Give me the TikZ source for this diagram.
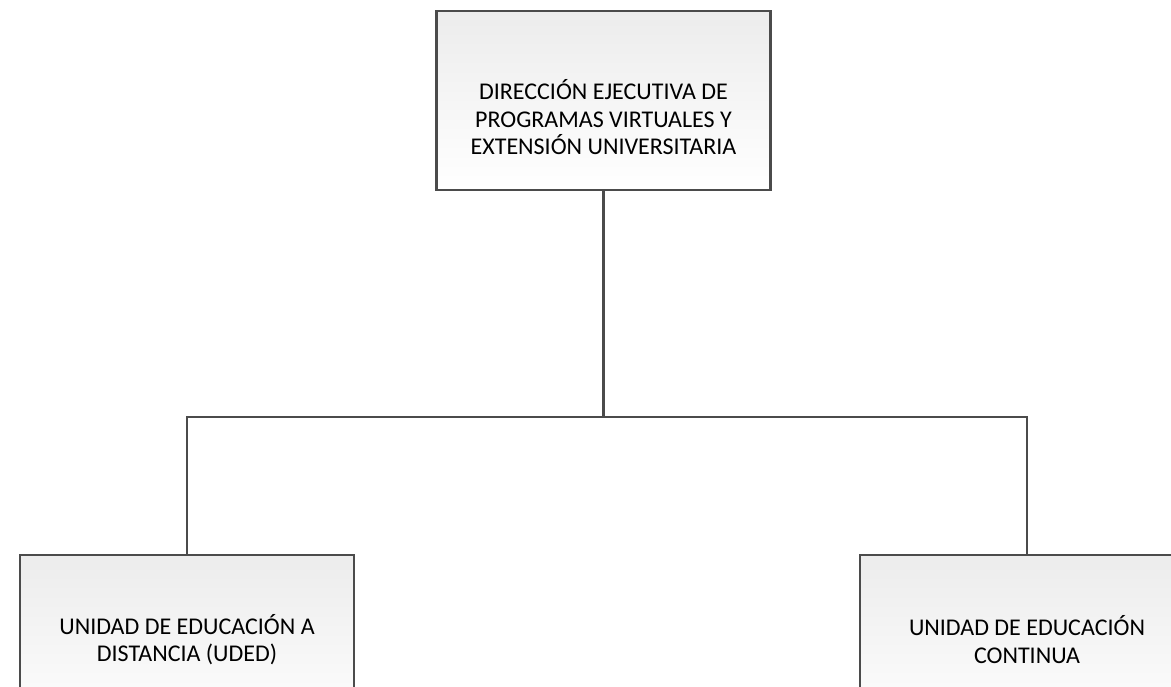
\documentclass[tikz,border=0pt]{standalone}
\usepackage{fontspec}
\setmainfont{Carlito}
\usepackage{tikz}
\usetikzlibrary{positioning}
\definecolor{boxtop}{RGB}{236,236,236}
\definecolor{boxline}{RGB}{75,75,75}

\begin{document}
\begin{tikzpicture}[x=1pt,y=1pt,line width=2.2pt,
  unit node/.style={rectangle,draw=boxline,top color=boxtop,bottom color=white,
    minimum width=334pt,minimum height=179pt,inner sep=0pt},
  label node/.style={align=center,font=\fontsize{24}{27.5}\selectfont},
  link/.style={draw=boxline,line width=2.2pt}]
  \useasboundingbox (0,0) rectangle (1171,686);
  \clip (0,0) rectangle (1171,686);
  \node[unit node] (dir) at (603.5,585.5) {};
  \node[unit node] (uded) at (187,41.5) {};
  \node[unit node] (cont) at (1027,41.5) {};

  % texts
  \node[label node] (dirtext) at (603.5,568.5)
    {DIRECCIÓN EJECUTIVA DE\\PROGRAMAS VIRTUALES Y\\EXTENSIÓN UNIVERSITARIA};
  \node[label node] (udedtext) at (187,46.5)
    {UNIDAD DE EDUCACIÓN A\\DISTANCIA (UDED)};
  \node[label node] (conttext) at (1027,46.5)
    {UNIDAD DE EDUCACIÓN\\CONTINUA};

  \coordinate (bus) at (dir.south |- 0,269);
  \path[link]
    (dir.south) edge (bus);
  \draw[link] (bus) -| (uded.north);
  \draw[link] (bus) -| (cont.north);
\end{tikzpicture}
\end{document}
